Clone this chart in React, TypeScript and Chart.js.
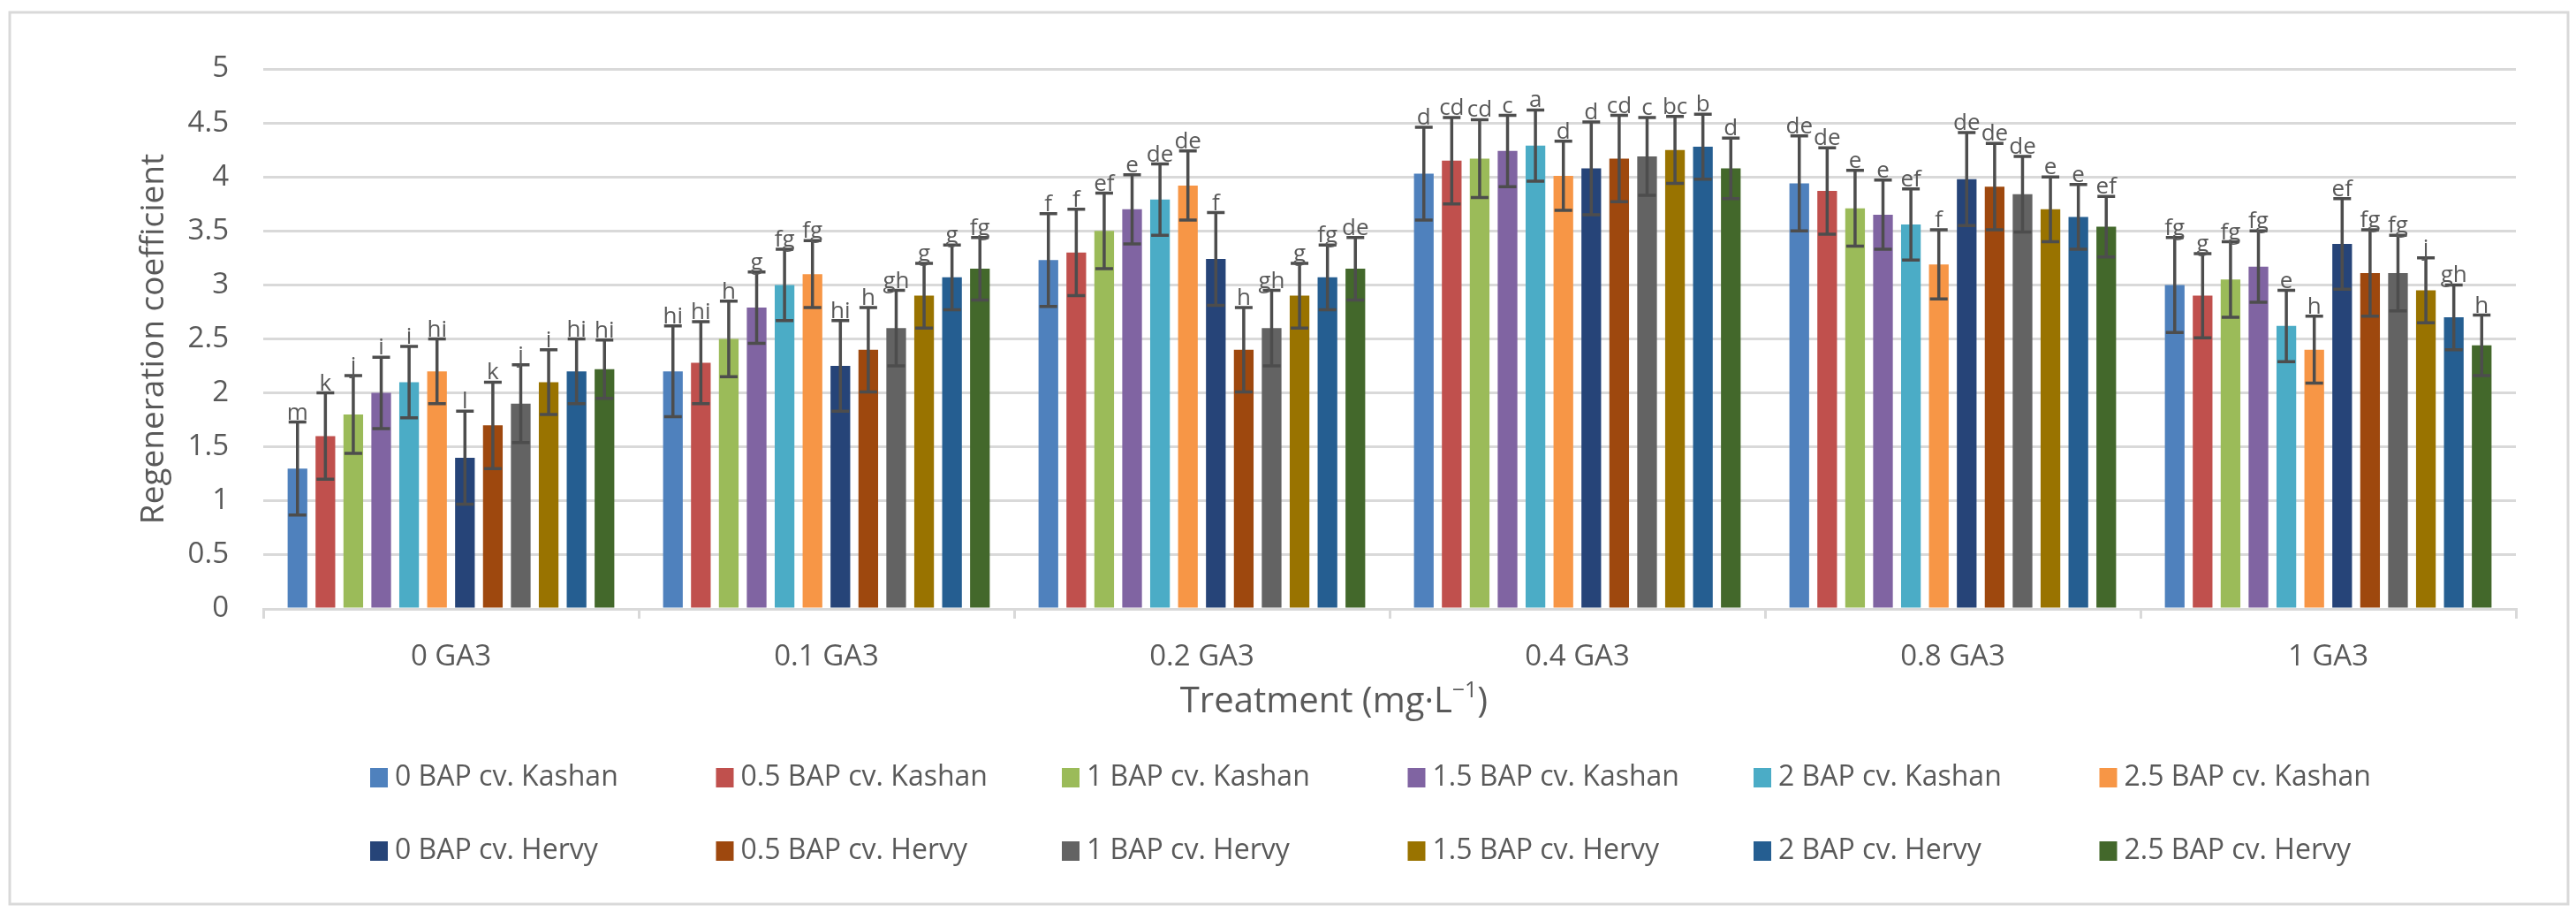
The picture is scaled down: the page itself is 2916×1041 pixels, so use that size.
import React, { useEffect, useRef } from "react";
import { Chart, registerables } from "chart.js";

Chart.register(...registerables);

const categories = ["0 GA3", "0.1 GA3", "0.2 GA3", "0.4 GA3", "0.8 GA3", "1 GA3"];

const seriesNames = [
  "0 BAP cv. Kashan",
  "0.5 BAP cv. Kashan",
  "1 BAP cv. Kashan",
  "1.5 BAP cv. Kashan",
  "2 BAP cv. Kashan",
  "2.5 BAP cv. Kashan",
  "0 BAP cv. Hervy",
  "0.5 BAP cv. Hervy",
  "1 BAP cv. Hervy",
  "1.5 BAP cv. Hervy",
  "2 BAP cv. Hervy",
  "2.5 BAP cv. Hervy",
];

const seriesColors = [
  "#4F81BD", "#C0504D", "#9BBB59", "#8064A2", "#4BACC6", "#F79646",
  "#264478", "#9E480E", "#636363", "#997300", "#255E91", "#43682B",
];

// mean values per series (one value per GA3 category)
const kashan0 = [1.3, 2.2, 3.23, 4.03, 3.94, 3.0];
const kashan05 = [1.6, 2.28, 3.3, 4.15, 3.87, 2.9];
const kashan1 = [1.8, 2.5, 3.5, 4.17, 3.71, 3.05];
const kashan15 = [2.0, 2.79, 3.7, 4.24, 3.65, 3.17];
const kashan2 = [2.1, 3.0, 3.79, 4.29, 3.56, 2.62];
const kashan25 = [2.2, 3.1, 3.92, 4.01, 3.19, 2.4];
const hervy0 = [1.4, 2.25, 3.24, 4.08, 3.98, 3.38];
const hervy05 = [1.7, 2.4, 2.4, 4.17, 3.91, 3.11];
const hervy1 = [1.9, 2.6, 2.6, 4.19, 3.84, 3.11];
const hervy15 = [2.1, 2.9, 2.9, 4.25, 3.7, 2.95];
const hervy2 = [2.2, 3.07, 3.07, 4.28, 3.63, 2.7];
const hervy25 = [2.22, 3.15, 3.15, 4.08, 3.54, 2.44];

const seriesValues = [
  kashan0, kashan05, kashan1, kashan15, kashan2, kashan25,
  hervy0, hervy05, hervy1, hervy15, hervy2, hervy25,
];

// error bar half-widths
const kashan0Err = [0.43, 0.42, 0.43, 0.43, 0.44, 0.44];
const kashan05Err = [0.4, 0.38, 0.4, 0.4, 0.4, 0.39];
const kashan1Err = [0.36, 0.35, 0.35, 0.36, 0.35, 0.35];
const kashan15Err = [0.33, 0.33, 0.32, 0.33, 0.32, 0.33];
const kashan2Err = [0.33, 0.33, 0.33, 0.33, 0.33, 0.33];
const kashan25Err = [0.3, 0.31, 0.32, 0.32, 0.32, 0.31];
const hervy0Err = [0.43, 0.42, 0.43, 0.43, 0.43, 0.42];
const hervy05Err = [0.4, 0.39, 0.39, 0.4, 0.4, 0.4];
const hervy1Err = [0.36, 0.35, 0.35, 0.36, 0.35, 0.35];
const hervy15Err = [0.3, 0.3, 0.3, 0.31, 0.3, 0.3];
const hervy2Err = [0.3, 0.3, 0.3, 0.3, 0.3, 0.3];
const hervy25Err = [0.27, 0.29, 0.29, 0.28, 0.28, 0.28];

const seriesErrors = [
  kashan0Err, kashan05Err, kashan1Err, kashan15Err, kashan2Err, kashan25Err,
  hervy0Err, hervy05Err, hervy1Err, hervy15Err, hervy2Err, hervy25Err,
];

// significance letters
const kashan0Sig = ["m", "hi", "f", "d", "de", "fg"];
const kashan05Sig = ["k", "hi", "f", "cd", "de", "g"];
const kashan1Sig = ["j", "h", "ef", "cd", "e", "fg"];
const kashan15Sig = ["i", "g", "e", "c", "e", "fg"];
const kashan2Sig = ["i", "fg", "de", "a", "ef", "e"];
const kashan25Sig = ["hi", "fg", "de", "d", "f", "h"];
const hervy0Sig = ["l", "hi", "f", "d", "de", "ef"];
const hervy05Sig = ["k", "h", "h", "cd", "de", "fg"];
const hervy1Sig = ["j", "gh", "gh", "c", "de", "fg"];
const hervy15Sig = ["i", "g", "g", "bc", "e", "j"];
const hervy2Sig = ["hi", "g", "fg", "b", "e", "gh"];
const hervy25Sig = ["hi", "fg", "de", "d", "ef", "h"];

const seriesLetters = [
  kashan0Sig, kashan05Sig, kashan1Sig, kashan15Sig, kashan2Sig, kashan25Sig,
  hervy0Sig, hervy05Sig, hervy1Sig, hervy15Sig, hervy2Sig, hervy25Sig,
];

const yTitle = "Regeneration coefficient";
const xTitleMain = "Treatment (mg·L";
const xTitleSup = "−1";
const xTitleEnd = ")";

const FONT = "'Open Sans', 'DejaVu Sans', sans-serif";
const TEXT = "#595959";
const GRID = "#d9d9d9";

const errorBarPlugin = {
  id: "errorBarsLetters",
  afterDatasetsDraw(chart: any) {
    const ctx = chart.ctx;
    const y = chart.scales.y;
    chart.data.datasets.forEach((ds: any, i: number) => {
      const meta = chart.getDatasetMeta(i);
      meta.data.forEach((bar: any, j: number) => {
        const v = ds.data[j];
        const e = seriesErrors[i][j];
        const yt = y.getPixelForValue(v + e);
        const yb = y.getPixelForValue(v - e);
        const x = bar.x;
        ctx.save();
        ctx.strokeStyle = "#4d4d4d";
        ctx.lineWidth = 3.5;
        ctx.beginPath();
        ctx.moveTo(x, yt);
        ctx.lineTo(x, yb);
        ctx.moveTo(x - 10, yt);
        ctx.lineTo(x + 10, yt);
        ctx.moveTo(x - 10, yb);
        ctx.lineTo(x + 10, yb);
        ctx.stroke();
        ctx.fillStyle = TEXT;
        ctx.font = `26px ${FONT}`;
        ctx.textAlign = "center";
        ctx.textBaseline = "alphabetic";
        ctx.fillText(seriesLetters[i][j], x, yt - 3);
        ctx.restore();
      });
    });
  },
};

const framePlugin = {
  id: "frameLegend",
  beforeDraw(chart: any) {
    const ctx = chart.ctx;
    ctx.save();
    ctx.fillStyle = "#ffffff";
    ctx.fillRect(0, 0, chart.width, chart.height);
    ctx.strokeStyle = GRID;
    ctx.lineWidth = 3;
    ctx.strokeRect(11, 14, chart.width - 20, chart.height - 32);
    ctx.restore();
  },
  afterDraw(chart: any) {
    const ctx = chart.ctx;
    ctx.save();
    // x-axis title
    ctx.fillStyle = TEXT;
    ctx.textBaseline = "middle";
    ctx.textAlign = "left";
    const mainFont = `40px ${FONT}`;
    const supFont = `25px ${FONT}`;
    ctx.font = mainFont;
    const w1 = ctx.measureText(xTitleMain).width;
    const w3 = ctx.measureText(xTitleEnd).width;
    ctx.font = supFont;
    const w2 = ctx.measureText(xTitleSup).width;
    const total = w1 + w2 + w3;
    const cx = 1510;
    const cy = 795;
    let x = cx - total / 2;
    ctx.font = mainFont;
    ctx.fillText(xTitleMain, x, cy);
    x += w1;
    ctx.font = supFont;
    ctx.fillText(xTitleSup, x, cy - 13);
    x += w2;
    ctx.font = mainFont;
    ctx.fillText(xTitleEnd, x, cy);

    // legend: 6 columns x 2 rows
    ctx.font = `32px ${FONT}`;
    chart.data.datasets.forEach((ds: any, i: number) => {
      const row = i < 6 ? 0 : 1;
      const col = i % 6;
      const lx = 419 + col * 391.5;
      const ly = row === 0 ? 880 : 963;
      ctx.fillStyle = ds.backgroundColor;
      ctx.fillRect(lx, ly - 11, 20, 22);
      ctx.fillStyle = TEXT;
      ctx.fillText(ds.label, lx + 28, ly);
    });
    ctx.restore();
  },
};

export default function App() {
  const ref = useRef<HTMLCanvasElement | null>(null);

  useEffect(() => {
    document.body.style.margin = "0";
    document.body.style.overflow = "hidden";
    if (!ref.current) return;
    Chart.defaults.font.family = FONT;
    const chart = new Chart(ref.current, {
      type: "bar",
      data: {
        labels: categories,
        datasets: seriesValues.map((vals, i) => ({
          label: seriesNames[i],
          data: vals,
          backgroundColor: seriesColors[i],
          borderWidth: 0,
          categoryPercentage: 0.892,
          barPercentage: 0.705,
        })),
      },
      options: {
        animation: false,
        responsive: false,
        devicePixelRatio: 1,
        layout: { padding: { left: 0, right: 68, top: 78, bottom: 212 } },
        plugins: {
          legend: { display: false },
          tooltip: { enabled: false },
        },
        scales: {
          x: {
            grid: {
              display: true,
              drawOnChartArea: false,
              drawTicks: true,
              tickLength: 11,
              color: GRID,
              lineWidth: 3,
              offset: true,
            },
            border: { display: true, color: GRID, width: 3 },
            ticks: { color: TEXT, font: { size: 33 }, padding: 24 },
            afterFit: (scale: any) => {
              scale.height = 140;
            },
          },
          y: {
            min: 0,
            max: 5,
            ticks: {
              stepSize: 0.5,
              color: TEXT,
              font: { size: 33 },
              padding: 39,
              callback: (v: any) => String(Number(v)),
            },
            grid: { color: GRID, lineWidth: 3, drawTicks: false },
            border: { display: false },
            title: {
              display: true,
              text: yTitle,
              color: TEXT,
              font: { size: 37 },
              padding: { top: 152, bottom: 0 },
            },
            afterFit: (scale: any) => {
              scale.width = 298;
            },
          },
        },
      },
      plugins: [framePlugin, errorBarPlugin],
    });
    return () => chart.destroy();
  }, []);

  return (
    <div style={{ width: 2916, height: 1041 }}>
      <canvas ref={ref} width={2916} height={1041} style={{ display: "block" }} />
    </div>
  );
}
